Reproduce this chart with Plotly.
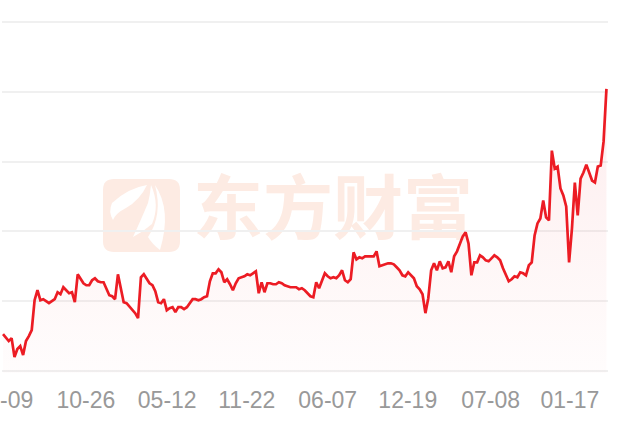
import pandas as pd
import plotly.graph_objects as go

# ---- data (weekly NAV readings) ----
start_date = "2021-04-07"
nav_values = [
    1.37, 1.33, 1.30, 1.33, 1.14, 1.22, 1.25, 1.16, 1.30, 1.35,
    1.41, 1.71, 1.81, 1.71, 1.72, 1.70, 1.68, 1.70, 1.72, 1.79,
    1.77, 1.84, 1.81, 1.78, 1.79, 1.69, 1.97, 1.93, 1.88, 1.86,
    1.86, 1.91, 1.93, 1.90, 1.89, 1.89, 1.83, 1.76, 1.75, 1.72,
    1.97, 1.83, 1.69, 1.68, 1.65, 1.61, 1.58, 1.53, 1.94, 1.97,
    1.92, 1.88, 1.86, 1.80, 1.69, 1.68, 1.72, 1.61, 1.63, 1.64,
    1.59, 1.64, 1.64, 1.62, 1.64, 1.68, 1.72, 1.72, 1.71, 1.72,
    1.74, 1.75, 1.90, 1.98, 1.98, 2.02, 1.99, 1.89, 1.92, 1.87,
    1.81, 1.88, 1.93, 1.94, 1.95, 1.97, 1.96, 1.98, 2.00, 1.78,
    1.89, 1.79, 1.88, 1.88, 1.87, 1.87, 1.89, 1.88, 1.86, 1.85,
    1.84, 1.84, 1.84, 1.82, 1.83, 1.81, 1.78, 1.75, 1.74, 1.89,
    1.83, 1.91, 1.98, 1.95, 1.93, 1.94, 1.93, 1.96, 2.01, 1.91,
    1.89, 1.92, 2.19, 2.12, 2.14, 2.13, 2.15, 2.15, 2.15, 2.15,
    2.20, 2.05, 2.06, 2.07, 2.08, 2.08, 2.07, 2.04, 2.01, 1.96,
    1.95, 1.99, 1.96, 1.93, 1.85, 1.82, 1.77, 1.58, 1.73, 2.01,
    2.08, 2.01, 2.10, 2.03, 2.04, 2.10, 1.99, 2.15, 2.20, 2.27,
    2.35, 2.39, 2.28, 1.96, 2.09, 2.09, 2.16, 2.14, 2.11, 2.10,
    2.13, 2.16, 2.14, 2.11, 2.03, 1.97, 1.90, 1.92, 1.95, 1.94,
    1.99, 1.98, 1.96, 2.06, 2.09, 2.36, 2.48, 2.53, 2.71, 2.54,
    2.51, 3.21, 3.03, 3.05, 2.83, 2.76, 2.65, 2.09, 2.43, 2.89,
    2.56, 2.93, 2.99, 3.07, 2.98, 2.91, 2.89, 3.05, 3.06, 3.30,
    3.83,
]
dates = pd.date_range(start_date, periods=len(nav_values), freq="7D")

tick_dates = ["2021-04-09", "2021-10-26", "2022-05-12", "2022-11-22",
              "2023-06-07", "2023-12-19", "2024-07-08", "2025-01-17"]
tick_labels = ["04-09", "10-26", "05-12", "11-22",
               "06-07", "12-19", "07-08", "01-17"]

y_min, y_max, y_step = 1.0, 4.5, 0.7
x_range = ["2021-04-04 14:00", "2025-04-19 19:00"]

# ---- layout geometry (pixels) ----
W, H = 633, 438
PAD = 2  # pixels of headroom so edge gridlines are kept
L, R, T, B = 2, 608, 22 - PAD, 371 + PAD


def px(x):
    return (x - L) / (R - L)


def py(y):
    return (B - y) / (B - T)


unit = (y_max - y_min) / (349.0)
yr = [y_min - PAD * unit, y_max + PAD * unit]

fig = go.Figure()
fig.add_trace(go.Scatter(
    x=dates, y=nav_values, mode="lines",
    line=dict(color="#ec1c24", width=2.7),
    fill="tozeroy",
    fillgradient=dict(
        type="vertical", start=y_min, stop=max(nav_values),
        colorscale=[[0, "rgba(236,28,36,0.012)"], [1, "rgba(236,28,36,0.08)"]],
    ),
    hoverinfo="skip",
))

# watermark: rounded icon square
wm_col = "#fdebe3"
x0, x1, y0, y1, r = 103, 180, 179, 252, 11
rect_path = (
    f"M {px(x0 + r)},{py(y0)} L {px(x1 - r)},{py(y0)} "
    f"Q {px(x1)},{py(y0)} {px(x1)},{py(y0 + r)} L {px(x1)},{py(y1 - r)} "
    f"Q {px(x1)},{py(y1)} {px(x1 - r)},{py(y1)} L {px(x0 + r)},{py(y1)} "
    f"Q {px(x0)},{py(y1)} {px(x0)},{py(y1 - r)} L {px(x0)},{py(y0 + r)} "
    f"Q {px(x0)},{py(y0)} {px(x0 + r)},{py(y0)} Z"
)
shapes = [dict(type="path", path=rect_path, xref="paper", yref="paper",
               fillcolor=wm_col, line=dict(width=0), layer="below")]


def leaf(points):
    p = f"M {px(points[0][0])},{py(points[0][1])} "
    for i in range(1, len(points) - 1, 2):
        c, e = points[i], points[i + 1]
        p += f"Q {px(c[0])},{py(c[1])} {px(e[0])},{py(e[1])} "
    return p + "Z"


leaves = [
    [(112, 203), (128, 188), (147, 185), (140, 200), (126, 208), (116, 213), (113, 220), (108, 212), (112, 203)],
    [(151, 185), (160, 205), (152, 224), (143, 232), (133, 237), (140, 222), (148, 203), (150, 195), (151, 185)],
    [(155, 185), (172, 210), (160, 250), (152, 244), (148, 237), (163, 215), (155, 185)],
]
for lf in leaves:
    shapes.append(dict(type="path", path=leaf(lf), xref="paper", yref="paper",
                       fillcolor="white", line=dict(width=0), layer="below"))

# watermark text
shapes.append(dict(
    type="rect", xref="paper", yref="paper",
    x0=px(190), x1=px(476), y0=py(250), y1=py(178),
    line=dict(width=0), fillcolor="rgba(0,0,0,0)", layer="below",
    label=dict(text="东方财富", textposition="middle center",
               font=dict(family="Noto Sans CJK SC", size=70, color=wm_col, weight=700)),
))

fig.update_layout(
    width=W, height=H,
    margin=dict(l=L, r=W - R, t=T, b=H - B, pad=0, autoexpand=False),
    paper_bgcolor="white", plot_bgcolor="white",
    showlegend=False,
    shapes=shapes,
    xaxis=dict(
        type="date", range=x_range, automargin=False,
        tickvals=tick_dates, ticktext=tick_labels,
        ticklabeloverflow="allow",
        showgrid=False, zeroline=False, showline=False,
        ticks="outside", ticklen=6, tickcolor="rgba(0,0,0,0)",
        tickfont=dict(family="Liberation Sans, Arial, sans-serif", size=23, color="#999999"),
        fixedrange=True,
    ),
    yaxis=dict(
        range=yr, tick0=y_min, dtick=y_step, automargin=False,
        showticklabels=False, showgrid=True, gridcolor="#f0f0f0", gridwidth=2,
        zeroline=False, showline=False, ticks="",
        fixedrange=True,
    ),
)

fig.write_html(
    "out.html",
    config={"staticPlot": True},
    post_script="document.body.style.margin='0';document.body.style.overflow='hidden';",
)
